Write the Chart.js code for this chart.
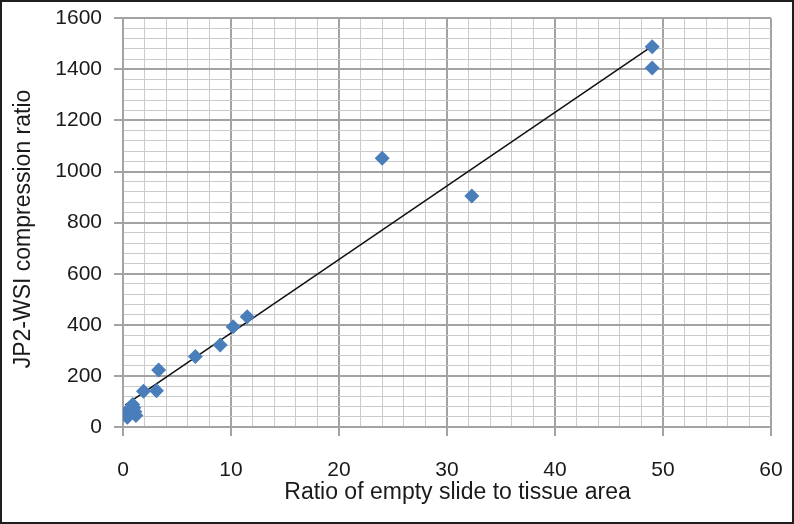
<!DOCTYPE html>
<html>
<head>
<meta charset="utf-8">
<script src="https://cdn.jsdelivr.net/npm/chart.js@4/dist/chart.umd.min.js"></script>
<style>
html,body{margin:0;padding:0;background:#fff;}
#wrap{width:794px;height:524px;position:relative;}
</style>
</head>
<body>
<div id="wrap"><canvas id="c" width="794" height="524"></canvas></div>
<script>
// Data
const emptyToTissueRatio = [49, 49, 24, 32.3, 11.5, 10.2, 9.0, 6.7, 3.3, 3.1, 1.9, 0.2, 0.4, 0.7, 0.9, 1.1, 1.2, 0.5, 1.0];
const compressionRatio   = [1489, 1405, 1052, 904, 432, 392, 321, 276, 223, 142, 140, 55, 38, 68, 88, 60, 45, 60, 75];
const trendX = [0.2, 49];
const trendY = [86, 1491];
const xTickLabels = [0, 10, 20, 30, 40, 50, 60];
const yTickLabels = [0, 200, 400, 600, 800, 1000, 1200, 1400, 1600];
const xTitle = 'Ratio of empty slide to tissue area';
const yTitle = 'JP2-WSI compression ratio';

const points = emptyToTissueRatio.map((x, i) => ({x: x, y: compressionRatio[i]}));
const trend = trendX.map((x, i) => ({x: x, y: trendY[i]}));

const MAJOR = '#a3a3a3', MINOR = '#cbcbcb';
const FONT = "'Liberation Sans', Arial, sans-serif";

const framePlugin = {
  id: 'frame',
  beforeDraw(chart) {
    const c = chart.ctx;
    c.save(); c.fillStyle = '#fff'; c.fillRect(0, 0, chart.width, chart.height); c.restore();
  },
  afterDraw(chart) {
    const c = chart.ctx;
    c.save();
    c.fillStyle = '#1a1a1a';
    c.font = '23px ' + FONT;
    c.textAlign = 'center';
    c.textBaseline = 'middle';
    // x-axis title
    c.fillText(xTitle, 457.5, 493);
    // y-axis title
    c.save();
    c.translate(24, 229);
    c.rotate(-Math.PI / 2);
    c.fillText(yTitle, 0, 0);
    c.restore();
    // outer frame
    c.strokeStyle = '#1e1e1e'; c.lineWidth = 2;
    c.strokeRect(1, 1, chart.width - 2, chart.height - 2);
    c.restore();
  }
};

new Chart(document.getElementById('c'), {
  type: 'scatter',
  data: {
    datasets: [
      {
        type: 'line',
        data: trend,
        borderColor: '#111',
        borderWidth: 1.5,
        pointRadius: 0,
        fill: false,
        order: 2
      },
      {
        data: points,
        pointStyle: 'rectRot',
        pointRadius: 7.5,
        pointBackgroundColor: '#4a7ebb',
        pointBorderColor: '#4a7ebb',
        pointBorderWidth: 0,
        order: 1
      }
    ]
  },
  options: {
    responsive: false,
    animation: false,
    layout: {padding: {top: 18.3, right: 23, bottom: 0, left: 0}},
    plugins: {legend: {display: false}, tooltip: {enabled: false}},
    scales: {
      x: {
        type: 'linear',
        min: 0, max: 60,
        afterFit: s => { s.height = 97; s.paddingLeft = 0; s.paddingRight = 0; },
        ticks: {
          stepSize: 2, autoSkip: false, maxRotation: 0,
          padding: 22,
          color: '#1a1a1a',
          font: {family: FONT, size: 21},
          callback: v => xTickLabels.includes(v) ? String(v) : ''
        },
        grid: {
          color: c => (c.tick && c.tick.value % 10 === 0) ? MAJOR : MINOR,
          lineWidth: c => (c.tick && c.tick.value % 10 === 0) ? 2 : 1,
          tickColor: c => (c.tick && c.tick.value % 10 === 0) ? MAJOR : 'rgba(0,0,0,0)',
          tickLength: 9
        },
        border: {display: true, color: MAJOR, width: 2},
        title: {display: false}
      },
      y: {
        type: 'linear',
        min: 0, max: 1600,
        afterFit: s => { s.width = 123; s.paddingTop = 0; s.paddingBottom = 0; },
        ticks: {
          stepSize: 40, autoSkip: false,
          padding: 12,
          color: '#1a1a1a',
          font: {family: FONT, size: 21},
          callback: v => yTickLabels.includes(v) ? String(v) : ''
        },
        grid: {
          color: c => (c.tick && c.tick.value % 200 === 0) ? MAJOR : MINOR,
          lineWidth: c => (c.tick && c.tick.value % 200 === 0) ? 2 : 1,
          tickColor: c => (c.tick && c.tick.value % 200 === 0) ? MAJOR : 'rgba(0,0,0,0)',
          tickLength: 9
        },
        border: {display: true, color: MAJOR, width: 2},
        title: {display: false}
      }
    }
  },
  plugins: [framePlugin]
});
</script>
</body>
</html>
